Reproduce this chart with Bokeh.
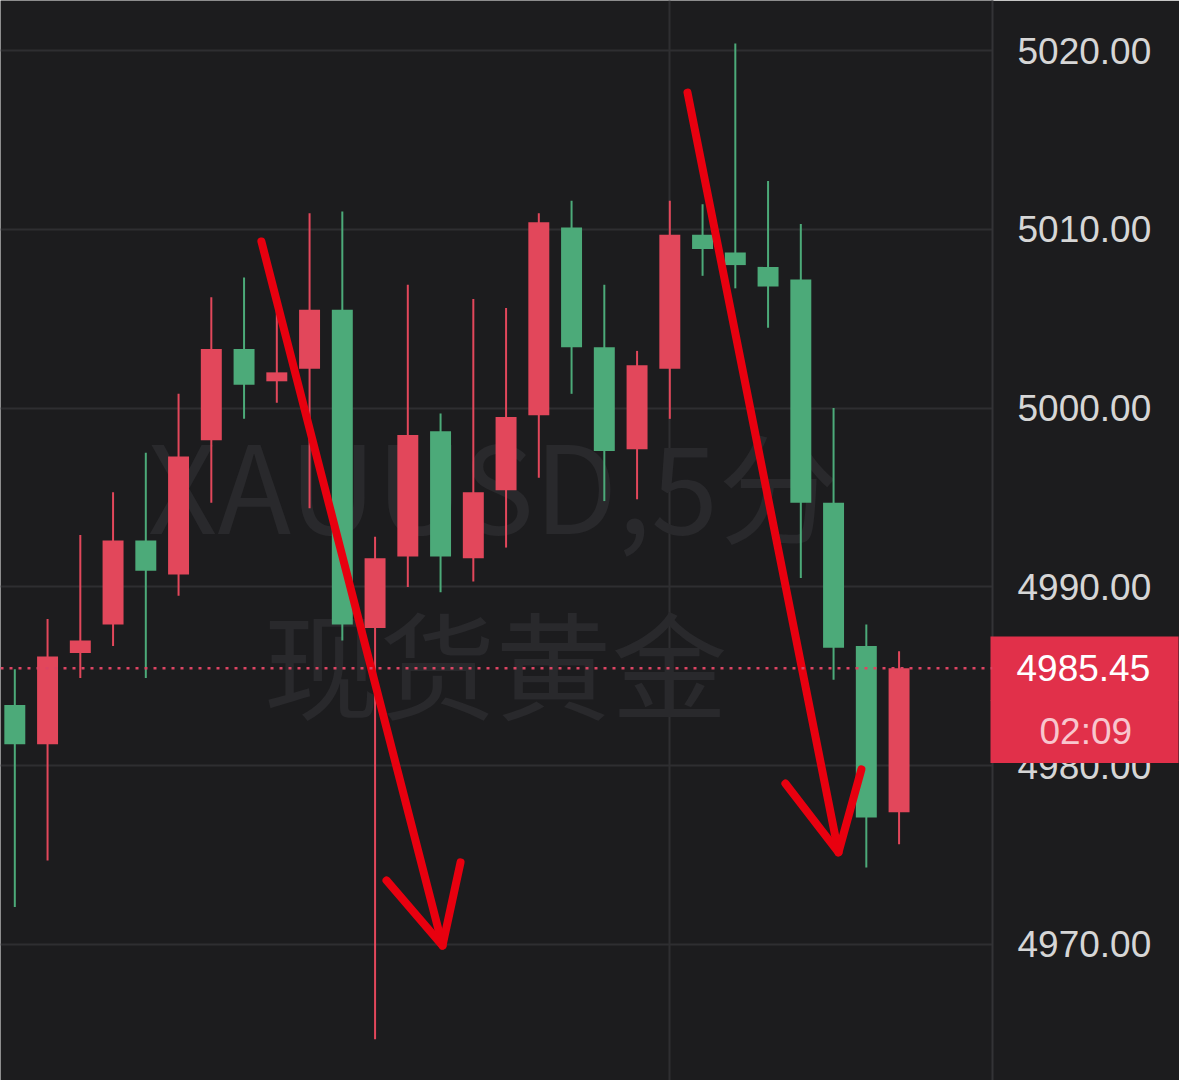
from bokeh.plotting import figure
from bokeh.models import Range1d, NumeralTickFormatter, FixedTicker, Label, Span, LinearAxis
from bokeh.embed import file_html
from bokeh.resources import INLINE

# ---------------- data ----------------
idx = list(range(28))
opens = [4983.4, 4981.2, 4986.3, 4987.9, 4992.6, 4990.7, 4998.2, 5003.3, 5001.5, 5002.2,
         5005.5, 4987.7, 4991.7, 4998.7, 4991.6, 4995.4, 4999.6, 5010.1, 5003.4, 4997.7,
         5002.2, 5009.7, 5008.7, 5007.9, 5007.2, 4994.7, 4986.7, 4977.4]
highs = [4985.4, 4988.2, 4992.9, 4995.3, 4997.5, 5000.8, 5006.2, 5007.3, 5006.0, 5010.9,
         5011.0, 4992.8, 5006.9, 4999.7, 5006.1, 5005.6, 5010.9, 5011.6, 5006.9, 5003.2,
         5011.6, 5011.4, 5020.4, 5012.7, 5010.3, 5000.0, 4987.9, 4986.4]
lows = [4972.1, 4974.7, 4984.9, 4986.7, 4984.9, 4989.5, 4994.7, 4999.4, 5000.3, 4994.4,
        4987.0, 4964.7, 4990.0, 4989.7, 4990.3, 4992.2, 4996.1, 5000.8, 4994.8, 4994.9,
        4999.4, 5007.4, 5006.7, 5004.5, 4990.5, 4984.8, 4974.3, 4975.6]
closes = [4981.2, 4986.1, 4987.0, 4992.6, 4990.9, 4997.3, 5003.3, 5001.3, 5002.0, 5005.5,
          4987.9, 4991.6, 4998.5, 4991.7, 4995.3, 4999.5, 5010.4, 5003.4, 4997.6, 5002.4,
          5009.7, 5008.9, 5008.0, 5006.8, 4994.7, 4986.6, 4977.1, 4985.45]
price_ticks = [4970, 4980, 4990, 5000, 5010, 5020]
time_grid = [20]
countdown_text = "02:09"
watermark_1 = "XAUUSD,5分"
watermark_2 = "现货黄金"
# hand-drawn arrows (candle index, price)
arrow_shafts_x = [[7.53, 13.06], [20.54, 25.15]]
arrow_shafts_y = [[5009.32, 4969.94], [5017.65, 4975.15]]
arrow_heads_x = [[11.35, 13.06, 13.61], [23.53, 25.15, 25.85]]
arrow_heads_y = [[4973.58, 4969.94, 4974.59], [4979.00, 4975.15, 4979.79]]

# ---------------- style ----------------
BG = "#1c1c1e"
GRID = "#2e2e31"
UP = "#e2475b"
DOWN = "#4caa79"
ARROW = "#e8000f"
BOX = "#e1304a"
FONT = "Liberation Sans"

up_flags = [c >= o for o, c in zip(opens, closes)]
colors = [UP if u else DOWN for u in up_flags]
tops = [max(o, c) for o, c in zip(opens, closes)]
bottoms = [min(o, c) for o, c in zip(opens, closes)]

FRAME_W, FRAME_H, AXIS_W = 992, 1080, 187
Y0, Y1 = 4962.39, 5022.80
PX_PER_UNIT = FRAME_H / (Y1 - Y0)

p = figure(frame_width=FRAME_W, frame_height=FRAME_H, output_backend="svg",
           toolbar_location=None, x_axis_location=None, y_axis_location="right",
           x_range=Range1d(-0.437, 29.853), y_range=Range1d(Y0, Y1),
           min_border_left=0, min_border_top=0, min_border_bottom=0,
           min_border_right=AXIS_W)
p.background_fill_color = BG
p.border_fill_color = BG
p.outline_line_color = None

p.ygrid.ticker = FixedTicker(ticks=price_ticks)
p.ygrid.grid_line_color = GRID
p.ygrid.grid_line_width = 2
p.xgrid.ticker = FixedTicker(ticks=time_grid)
p.xgrid.grid_line_color = GRID
p.xgrid.grid_line_width = 2

# price axis (inner)
ax = p.yaxis[0]
ax.ticker = FixedTicker(ticks=price_ticks)
ax.formatter = NumeralTickFormatter(format="0.00")
ax.major_label_text_font = FONT
ax.major_label_text_font_size = "37px"
ax.major_label_text_color = "#d6d6d6"
ax.major_tick_line_color = None
ax.major_tick_in = 0
ax.major_tick_out = 0
ax.minor_tick_line_color = None
ax.minor_tick_in = 0
ax.minor_tick_out = 0
ax.axis_line_color = "#333336"
ax.axis_line_width = 2
ax.major_label_standoff = 25

# last-price box: a thick tick drawn back over the price axis
last_axis = LinearAxis(ticker=FixedTicker(ticks=[closes[-1]]),
                       formatter=NumeralTickFormatter(format="0.00"),
                       axis_line_color=None, minor_tick_line_color=None,
                       minor_tick_in=0, minor_tick_out=0,
                       major_tick_in=164, major_tick_out=24,
                       major_tick_line_color=BOX, major_tick_line_width=64,
                       major_label_standoff=-162,
                       major_label_text_font=FONT, major_label_text_font_size="37px",
                       major_label_text_color="#ffffff")
p.add_layout(last_axis, "right")

countdown_y = closes[-1] - 63.5 / PX_PER_UNIT
cd_axis = LinearAxis(ticker=FixedTicker(ticks=[countdown_y]),
                     major_label_overrides={countdown_y: countdown_text},
                     axis_line_color=None, minor_tick_line_color=None,
                     minor_tick_in=0, minor_tick_out=0,
                     major_tick_in=164, major_tick_out=24,
                     major_tick_line_color=BOX, major_tick_line_width=63,
                     major_label_standoff=-139,
                     major_label_text_font=FONT, major_label_text_font_size="37px",
                     major_label_text_color="#f8c6ce")
p.add_layout(cd_axis, "right")

# watermark
p.add_layout(Label(x=493, y=4995.9, x_units="screen", text=watermark_1,
                   text_align="center", text_baseline="middle",
                   text_font="Noto Sans CJK SC", text_font_size="121px",
                   text_color="#29292c", level="underlay"))
p.add_layout(Label(x=495, y=4985.9, x_units="screen", text=watermark_2,
                   text_align="center", text_baseline="middle",
                   text_font="Noto Sans CJK SC", text_font_size="116px",
                   text_color="#29292c", level="underlay"))

# candles
p.segment(x0=idx, y0=highs, x1=idx, y1=lows, line_color=colors, line_width=2)
p.vbar(x=idx, width=0.64, top=tops, bottom=bottoms, fill_color=colors, line_color=None)

# last price line
p.add_layout(Span(location=closes[-1], dimension="width", line_color="#dc4463",
                  line_width=2.5, line_dash="3 6"))

# arrows
p.multi_line(xs=arrow_shafts_x, ys=arrow_shafts_y, line_color=ARROW, line_width=8,
             line_cap="round", line_join="round")
p.multi_line(xs=arrow_heads_x, ys=arrow_heads_y, line_color=ARROW, line_width=8,
             line_cap="round", line_join="round")

open("out.html", "w").write(file_html(p, INLINE))
